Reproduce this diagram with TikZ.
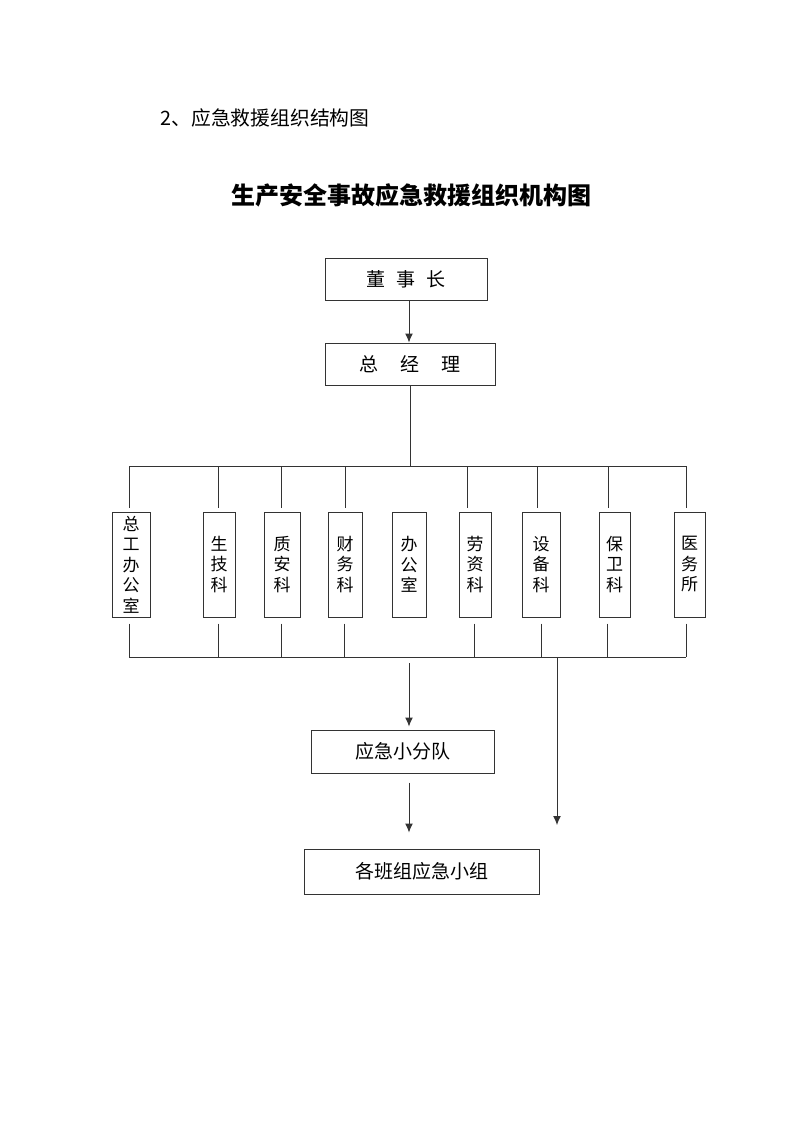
\documentclass[tikz,border=0pt]{standalone}
\usepackage{fontspec}
\setmainfont{Noto Sans CJK SC}
\usetikzlibrary{arrows.meta}
\begin{document}
\begin{tikzpicture}
  [x=1pt,y=-1pt,line width=1pt,draw=black!80,every node/.style={inner sep=0pt}]
  \tikzstyle{box} = [draw=black!80,shape=rectangle,font=\fontsize{19}{20}\selectfont]
  \tikzstyle{dept} = [draw=black!80,shape=rectangle,minimum height=105pt,align=center,font=\fontsize{17}{20.5}\selectfont]
  \tikzstyle{arr} = [-{Latex[length=9pt,width=8pt]}]
  \useasboundingbox (0,0) rectangle (800,1132);
  \node[anchor=west,font=\fontsize{19.8}{20}\selectfont] (hdr) at (160,118) {2、应急救援组织结构图};
  \node[font=\fontsize{24}{24}\selectfont\bfseries] (title) at (411.5,195) {生产安全事故应急救援组织机构图};
  \node[box,minimum width=162pt,minimum height=42pt] (dsz) at (406,279) {董\hspace{11pt}事\hspace{11pt}长};
  \node[box,minimum width=170pt,minimum height=42pt] (zjl) at (410,364) {总\hspace{22pt}经\hspace{22pt}理};
  \draw[arr] (dsz.south -| 409,0) -- (zjl.north -| 409,0);
  % departments
  \node[dept,minimum width=38pt] (zg) at (131,564.5) {总\\工\\办\\公\\室};
  \node[dept,minimum width=32pt] (sj) at (219,564.5) {生\\技\\科};
  \node[dept,minimum width=36pt] (za) at (282,564.5) {质\\安\\科};
  \node[dept,minimum width=34pt] (cw) at (345,564.5) {财\\务\\科};
  \node[dept,minimum width=34pt] (bgs) at (409,564.5) {办\\公\\室};
  \node[dept,minimum width=32pt] (ls) at (475,564.5) {劳\\资\\科};
  \node[dept,minimum width=38pt] (sb) at (541,564.5) {设\\备\\科};
  \node[dept,minimum width=31pt] (bw) at (614.5,564.5) {保\\卫\\科};
  \node[dept,minimum width=31pt] (ys) at (689.5,564.5) {医\\务\\所};
  \draw (zjl.south -| 410,0) -- (410,466);
  \draw (129,466) -- (686,466);
  \draw (129,657) -- (686,657);
  \foreach \n /\tx /\bx in {zg/129/129,sj/218/218,za/281/281,cw/345/344,ls/467/474,sb/537/541,bw/608/607,ys/686/686}
   {\draw (\tx,466) -- ([yshift=4pt]\n.north -| \tx,0);
    \draw ([yshift=-6pt]\n.south -| \bx,0) -- (\bx,657);}
  % teams
  \node[box,minimum width=183pt,minimum height=43pt] (xfd) at (402.5,751.5) {应急小分队};
  \node[box,minimum width=235pt,minimum height=45pt] (bzx) at (421.5,871.5) {各班组应急小组};
  \draw[arr] (409,663) -- ([yshift=3pt]xfd.north -| 409,0);
  \draw[arr] ([yshift=-9pt]xfd.south -| 409,0) -- ([yshift=16pt]bzx.north -| 409,0);
  \draw[arr] (557,657) -- (557,825);
\end{tikzpicture}
\end{document}
